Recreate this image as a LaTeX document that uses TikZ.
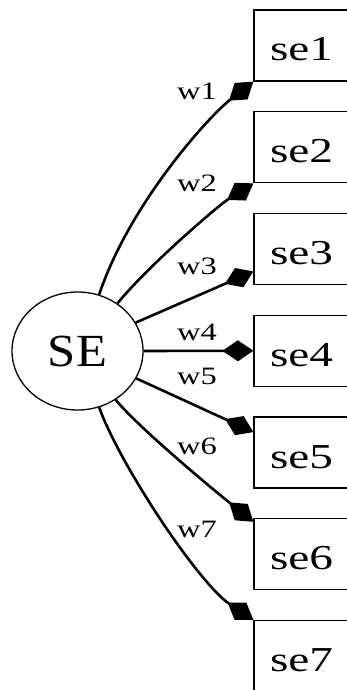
\documentclass[tikz,border=0pt]{standalone}
\usepackage{fontspec}
\setmainfont{Liberation Serif}
\usepackage{graphicx}
\usetikzlibrary{shapes, arrows.meta, calc}

\tikzset{
	latent/.style={ellipse, draw, line width=1.3pt, minimum width=131pt, minimum height=118pt, inner sep=0pt, font=\fontsize{46}{50}\selectfont},
	indicator/.style={rectangle, draw, line width=1.3pt, minimum width=95pt, minimum height=71pt, inner sep=0pt, text height=31pt, text depth=0pt, font=\fontsize{35}{40}\selectfont},
	loading/.style={line width=2.6pt, -{Diamond[length=31pt,width=21pt]}},
	wlabel/.style={inner sep=0pt, font=\fontsize{25}{28}\selectfont}
}
\newcommand{\widetext}[2]{\scalebox{#1}[1]{#2}}

\begin{document}
\begin{tikzpicture}[x=1pt, y=-1pt]
	\useasboundingbox (0,0) rectangle (347,690);
	\clip (0,0) rectangle (347,690);
	\pgfmathsetmacro{\boxx}{301.5}
	\pgfmathsetmacro{\labx}{197}
	
	\node[latent] (SE) at (77.5,351) {\widetext{1.1}{SE}};
	
	\node[indicator] (se1) at (\boxx,45.5) {\widetext{1.35}{se1}};
	\node[indicator] (se2) at (\boxx,147.25) {\widetext{1.35}{se2}};
	\node[indicator] (se3) at (\boxx,249) {\widetext{1.35}{se3}};
	\node[indicator] (se4) at (\boxx,350.75) {\widetext{1.35}{se4}};
	\node[indicator] (se5) at (\boxx,452.5) {\widetext{1.35}{se5}};
	\node[indicator] (se6) at (\boxx,554.25) {\widetext{1.35}{se6}};
	\node[indicator] (se7) at (\boxx,656) {\widetext{1.35}{se7}};
	
	\draw[loading] (SE.69) .. controls +(30,-90) and +(-45,35) .. (se1.south west);
	\draw[loading] (SE.50) .. controls +(30,-37) and +(-35,22) .. (se2.south west);
	\draw[loading] (SE.26) -- (se3.205);
	\draw[loading] (SE.east) -- (se4.west);
	\draw[loading] (SE.-25) -- (se5.157);
	\draw[loading] (SE.-52) .. controls +(25,30) and +(-35,-28) .. (se6.146);
	\draw[loading] (SE.-69) .. controls +(22,60) and +(-54,-36) .. (se7.north west);
	
	\node[wlabel] (lw1) at (\labx,91.5) {\widetext{1.3}{w1}};
	\node[wlabel] (lw2) at (\labx,183.5) {\widetext{1.3}{w2}};
	\node[wlabel] (lw3) at (\labx,266.5) {\widetext{1.3}{w3}};
	\node[wlabel] (lw4) at (\labx,332.5) {\widetext{1.3}{w4}};
	\node[wlabel] (lw5) at (\labx,376.5) {\widetext{1.3}{w5}};
	\node[wlabel] (lw6) at (\labx,446.5) {\widetext{1.3}{w6}};
	\node[wlabel] (lw7) at (\labx,529.5) {\widetext{1.3}{w7}};
\end{tikzpicture}
\end{document}
